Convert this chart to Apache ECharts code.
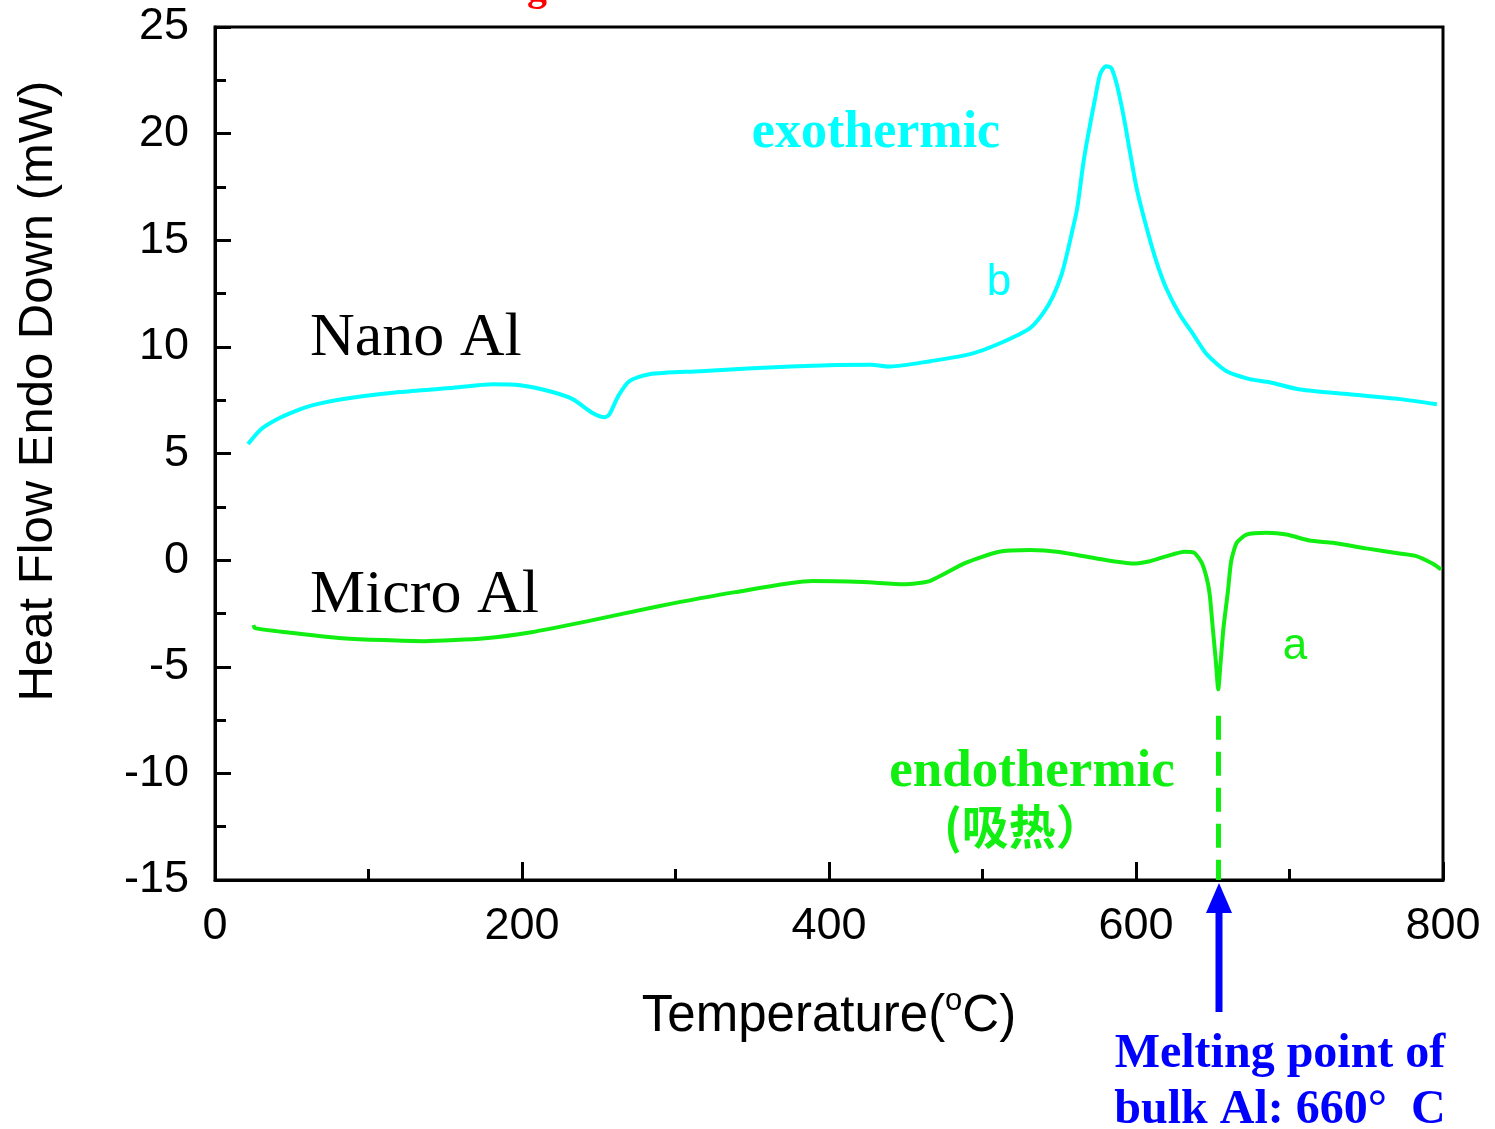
<!DOCTYPE html>
<html>
<head>
<meta charset="utf-8">
<title>DSC Heat Flow</title>
<script src="https://cdn.jsdelivr.net/npm/echarts@6/dist/echarts.min.js"></script>
<style>
  html, body { margin: 0; padding: 0; background: #fff; }
  #chart { width: 1495px; height: 1129px; }
</style>
</head>
<body>
<div id="chart"></div>
<script>
// Nano Al heat flow (curve b)
const nanoTemp = [21.5, 30, 40.4, 52, 63.8, 88, 120.5, 153, 181, 198.7, 218, 233, 246, 254, 257, 262.7, 270, 283, 316, 350,
  400, 427, 440, 466, 492, 511.4, 531, 539.5, 546, 551.6, 555, 558, 561.7, 565.6, 568.9, 573.4, 576.6, 580.5, 584, 587.5,
  591.7, 596, 600.4, 607, 613.3, 619.7, 628.4, 637.2, 646, 659, 674, 687, 707, 739, 772, 796];
const nanoHeat = [5.44, 6.14, 6.61, 6.98, 7.27, 7.6, 7.88, 8.07, 8.25, 8.2, 7.92, 7.55, 6.9, 6.7, 6.84, 7.69, 8.39, 8.72, 8.86, 9.0,
  9.14, 9.16, 9.08, 9.33, 9.66, 10.17, 10.88, 11.58, 12.38, 13.41, 14.35, 15.28, 16.5, 18.57, 19.97, 21.66, 22.78, 23.16, 23.07, 22.3,
  20.9, 19.17, 17.44, 15.56, 14.0, 12.75, 11.53, 10.6, 9.66, 8.86, 8.49, 8.34, 8.0, 7.78, 7.55, 7.31];

// Micro Al heat flow (curve a)
const microTemp = [25, 26, 40, 83, 136.5, 176, 206, 243, 289, 339, 389, 422, 449, 465.5, 488.6, 510, 531, 550, 576.5, 598,
  609, 620, 631.6, 638, 642.8, 646, 648, 650, 652, 653.6, 655, 657, 659.9, 662, 665.6, 672, 685, 698, 713, 728.3,
  750, 771.7, 782.6, 793.4, 798.8];
const microHeat = [-3.05, -3.19, -3.33, -3.66, -3.8, -3.66, -3.38, -2.86, -2.16, -1.5, -0.98, -1.03, -1.13, -0.98, -0.14, 0.38, 0.47, 0.38, 0.05, -0.16,
  -0.05, 0.19, 0.39, 0.34, -0.12, -0.83, -1.6, -3.17, -4.73, -6.06, -4.9, -3.17, -1.45, -0.05, 0.81, 1.2, 1.28, 1.2, 0.92, 0.81,
  0.55, 0.31, 0.19, -0.17, -0.44];

// Axis ranges and ticks
const tempTicks = [0, 200, 400, 600, 800];
const heatTicks = [-15, -10, -5, 0, 5, 10, 15, 20, 25];

// Endothermic marker: dashed line from the melting dip down to the axis
const meltMarkTemp = 653.6;
const meltMarkTop = -7.3;

const CYAN = '#00FFFF';
const GREEN = '#11EE11';
const BLUE = '#0000FF';
const SANS = '"Liberation Sans", Arial, sans-serif';
const SERIF = '"Liberation Serif", "Times New Roman", serif';

const zip = (xs, ys) => xs.map((x, i) => [x, ys[i]]);

const chart = echarts.init(document.getElementById('chart'), null, { renderer: 'canvas' });

chart.setOption({
  animation: false,
  backgroundColor: '#fff',
  grid: {
    left: 215, right: 52, top: 27, bottom: 249,
    show: true, borderColor: '#000', borderWidth: 3, backgroundColor: 'transparent'
  },
  xAxis: {
    type: 'value',
    min: tempTicks[0], max: tempTicks[tempTicks.length - 1],
    interval: tempTicks[1] - tempTicks[0],
    axisLine: { show: true, onZero: false, lineStyle: { color: '#000', width: 3 } },
    axisTick: { show: true, inside: true, length: 18, lineStyle: { color: '#000', width: 3 } },
    minorTick: { show: true, splitNumber: 2, length: 11, lineStyle: { color: '#000', width: 3 } },
    splitLine: { show: false },
    axisLabel: { color: '#000', fontFamily: SANS, fontSize: 45, margin: 24 }
  },
  yAxis: {
    type: 'value',
    min: heatTicks[0], max: heatTicks[heatTicks.length - 1],
    interval: heatTicks[1] - heatTicks[0],
    axisLine: { show: true, onZero: false, lineStyle: { color: '#000', width: 3 } },
    axisTick: { show: true, inside: true, length: 16, lineStyle: { color: '#000', width: 3 } },
    minorTick: { show: true, splitNumber: 2, length: 11, lineStyle: { color: '#000', width: 3 } },
    splitLine: { show: false },
    axisLabel: { color: '#000', fontFamily: SANS, fontSize: 45, margin: 26 }
  },
  series: [
    {
      name: 'Nano Al',
      type: 'line',
      data: zip(nanoTemp, nanoHeat),
      showSymbol: false,
      smooth: 0.25,
      lineStyle: { color: CYAN, width: 4 },
      itemStyle: { color: CYAN }
    },
    {
      name: 'Micro Al',
      type: 'line',
      data: zip(microTemp, microHeat),
      showSymbol: false,
      smooth: 0.2,
      lineStyle: { color: GREEN, width: 4 },
      itemStyle: { color: GREEN },
      markLine: {
        silent: true,
        symbol: 'none',
        label: { show: false },
        lineStyle: { color: GREEN, width: 5, type: [24, 12] },
        data: [[
          { coord: [meltMarkTemp, meltMarkTop] },
          { coord: [meltMarkTemp, heatTicks[0]] }
        ]]
      }
    }
  ]
});

// Arrow pointing up at the melting point on the temperature axis
const tip = chart.convertToPixel({ xAxisIndex: 0, yAxisIndex: 0 }, [meltMarkTemp, heatTicks[0]]);
const ax = Math.round(tip[0]) + 1;
const tipY = tip[1] + 3;
const headH = 30, headW = 13, tailY = 1012;

chart.setOption({
  graphic: [
    // curve names
    { type: 'text', left: 310, top: 308,
      style: { text: 'Nano Al', fill: '#000', font: '62px ' + SERIF } },
    { type: 'text', left: 310, top: 565,
      style: { text: 'Micro Al', fill: '#000', font: '62px ' + SERIF } },
    // curve letters
    { type: 'text', x: 999, y: 283,
      style: { text: 'b', fill: CYAN, font: '44px ' + SANS, textAlign: 'center', textVerticalAlign: 'middle' } },
    { type: 'text', x: 1295, y: 647,
      style: { text: 'a', fill: GREEN, font: '44px ' + SANS, textAlign: 'center', textVerticalAlign: 'middle' } },
    // exo / endo annotations
    { type: 'text', x: 876, y: 134,
      style: { text: 'exothermic', fill: CYAN, font: 'bold 52px ' + SERIF, textAlign: 'center', textVerticalAlign: 'middle' } },
    { type: 'text', x: 1032, y: 772,
      style: { text: 'endothermic', fill: GREEN, font: 'bold 53px ' + SERIF, textAlign: 'center', textVerticalAlign: 'middle' } },
    { type: 'text', left: 944, top: 803,
      style: { text: '(吸热）', fill: GREEN, font: 'bold 47px "Noto Sans CJK SC", ' + SERIF } },
    // melting point arrow
    { type: 'line', silent: true,
      shape: { x1: ax, y1: tailY, x2: ax, y2: tipY + headH - 2 },
      style: { stroke: BLUE, lineWidth: 7 } },
    { type: 'polygon', silent: true,
      shape: { points: [[ax, tipY], [ax - headW, tipY + headH], [ax + headW, tipY + headH]] },
      style: { fill: BLUE } },
    { type: 'text', x: 1280, y: 1055,
      style: { text: 'Melting point of', fill: BLUE, font: 'bold 48px ' + SERIF, textAlign: 'center', textVerticalAlign: 'middle' } },
    { type: 'text', x: 1280, y: 1111,
      style: { text: 'bulk Al: 660°  C', fill: BLUE, font: 'bold 48px ' + SERIF, textAlign: 'center', textVerticalAlign: 'middle' } },
    // axis titles
    { type: 'text', x: 829, y: 1014,
      style: {
        text: '{n|Temperature(}{s|o}{n|C)}',
        textAlign: 'center', textVerticalAlign: 'middle',
        rich: {
          n: { fill: '#000', fontFamily: SANS, fontSize: 51, lineHeight: 56, verticalAlign: 'bottom' },
          s: { fill: '#000', fontFamily: SANS, fontSize: 31, lineHeight: 30, verticalAlign: 'top' }
        }
      } },
    { type: 'text', x: 38, y: 391, rotation: Math.PI / 2,
      style: { text: 'Heat Flow Endo Down (mW)', fill: '#000', font: '49px ' + SANS, textAlign: 'center', textVerticalAlign: 'middle' } },
    // title fragment at the top edge
    { type: 'text', x: 537, y: -30,
      style: { text: 'g', fill: '#FF0000', font: 'bold 40px ' + SERIF, textAlign: 'center', textVerticalAlign: 'top' } }
  ]
});
</script>
</body>
</html>
